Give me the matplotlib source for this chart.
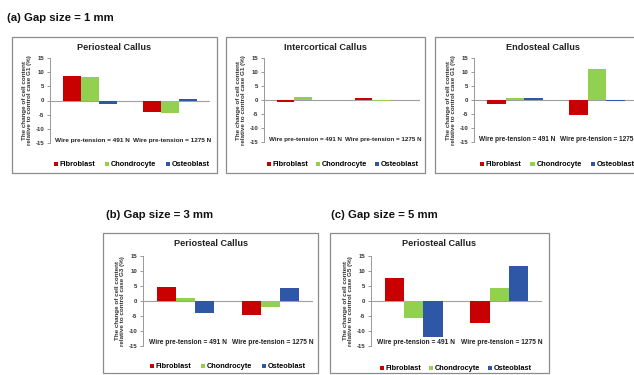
import matplotlib
matplotlib.use("Agg")
import matplotlib.pyplot as plt
from matplotlib.patches import Rectangle, Patch
import numpy as np

plt.rcParams['font.family'] = ['Liberation Sans', 'DejaVu Sans']

W, H = 634, 375

categories = ["Wire pre-tension = 491 N", "Wire pre-tension = 1275 N"]
series_names = ["Fibroblast", "Chondrocyte", "Osteoblast"]
colors = ["#C80000", "#92D050", "#2E58A6"]

# (a) gap 1 mm
peri1_fib = [8.5, -3.9]
peri1_cho = [8.3, -4.5]
peri1_ost = [-1.3, 0.6]
inter1_fib = [-0.7, 0.6]
inter1_cho = [0.9, -0.5]
inter1_ost = [0.05, -0.05]
endo1_fib = [-1.5, -5.4]
endo1_cho = [0.8, 11.1]
endo1_ost = [0.7, -0.4]
# (b) gap 3 mm
peri3_fib = [4.7, -4.7]
peri3_cho = [0.9, -2.0]
peri3_ost = [-3.9, 4.2]
# (c) gap 5 mm
peri5_fib = [7.8, -7.3]
peri5_cho = [-5.6, 4.5]
peri5_ost = [-11.9, 11.8]

yticks = [-15, -10, -5, 0, 5, 10, 15]

fig = plt.figure(figsize=(W / 100, H / 100), dpi=100)


def fx(x):
    return x / W


def fy(y):
    return 1 - y / H


def panel(box, axx, axy, title, title_y, ylabel, legend_y, legend_x, data, colsp=1.5,
          catsize=4.7):
    bl, bt, br, bb = box
    fig.patches.append(Rectangle((fx(bl), fy(bb)), fx(br) - fx(bl), fy(bt) - fy(bb),
                                 transform=fig.transFigure, facecolor='none',
                                 edgecolor='#8C8C8C', lw=0.9, zorder=-1))
    x0, x1 = axx
    ytop, ybot = axy
    ax = fig.add_axes([fx(x0), fy(ybot), fx(x1) - fx(x0), fy(ytop) - fy(ybot)])
    ax.set_facecolor('none')
    xs = np.arange(len(categories))
    bw = 0.225
    for i, (vals, c) in enumerate(zip(data, colors)):
        ax.bar(xs + (i - 1) * bw, vals, width=bw, color=c, edgecolor='none', zorder=2)
    ax.axhline(0, color='#A0A0A0', lw=0.8, zorder=1)
    ax.set_xlim(-0.5, 1.5)
    ax.set_ylim(-15, 15)
    ax.set_yticks(yticks)
    ax.set_yticklabels([str(t) for t in yticks], fontsize=4.3, fontweight='bold', color='#333333')
    ax.tick_params(axis='y', length=2, width=0.6, color='#888888', pad=2)
    ax.set_xticks([])
    for s in ['top', 'right', 'bottom']:
        ax.spines[s].set_visible(False)
    ax.spines['left'].set_color('#999999')
    ax.spines['left'].set_linewidth(0.7)
    for i, cat in enumerate(categories):
        ax.text(i + 0.03, -14, cat, ha='center', va='center', fontsize=catsize,
                fontweight='bold', color='#222222', clip_on=False)
    ax.set_ylabel(ylabel, fontsize=4.5, fontweight='bold', color='#333333', labelpad=2.5,
                  linespacing=1.1)
    fig.text(fx((bl + br) / 2), fy(title_y), title, ha='center', va='center',
             fontsize=6.6, fontweight='bold', color='#222222')
    handles = [Patch(facecolor=c, edgecolor='none') for c in colors]
    fig.legend(handles, series_names, loc='center left',
               bbox_to_anchor=(fx(legend_x), fy(legend_y)), ncol=3, frameon=False,
               handlelength=0.55, handleheight=0.6, handletextpad=0.25,
               columnspacing=colsp, borderpad=0, borderaxespad=0,
               prop={'weight': 'bold', 'size': 5.3})
    return ax


ylab = "The change of cell content\nrelative to control case {} (%)"

fig.text(fx(7), fy(18), "(a) Gap size = 1 mm", ha='left', va='center', fontsize=8.2,
         fontweight='bold', color='#111111')
fig.text(fx(106), fy(215), "(b) Gap size = 3 mm", ha='left', va='center', fontsize=8.2,
         fontweight='bold', color='#111111')
fig.text(fx(331), fy(215), "(c) Gap size = 5 mm", ha='left', va='center', fontsize=8.2,
         fontweight='bold', color='#111111')

panel((12, 37, 217, 173), (50, 210), (58, 143), "Periosteal Callus", 47,
      ylab.format("G1"), 165, 54, [peri1_fib, peri1_cho, peri1_ost], 1.3, 4.6)
panel((226, 37, 425, 173), (264, 420), (58, 142), "Intercortical Callus", 47,
      ylab.format("G1"), 165, 267, [inter1_fib, inter1_cho, inter1_ost], 1.0, 4.5)
panel((435, 37, 650, 173), (474, 638), (58, 142), "Endosteal Callus", 47,
      ylab.format("G1"), 165, 480, [endo1_fib, endo1_cho, endo1_ost], 1.2, 4.7)
panel((103, 233, 318, 373), (143, 313), (256, 346), "Periosteal Callus", 244,
      ylab.format("G3"), 367, 150, [peri3_fib, peri3_cho, peri3_ost], 1.3, 4.8)
panel((330, 233, 549, 373), (371, 542), (256, 346), "Periosteal Callus", 244,
      ylab.format("G5"), 369, 380, [peri5_fib, peri5_cho, peri5_ost], 1.0, 4.8)

fig.savefig("out.png", dpi=100, facecolor='white')
